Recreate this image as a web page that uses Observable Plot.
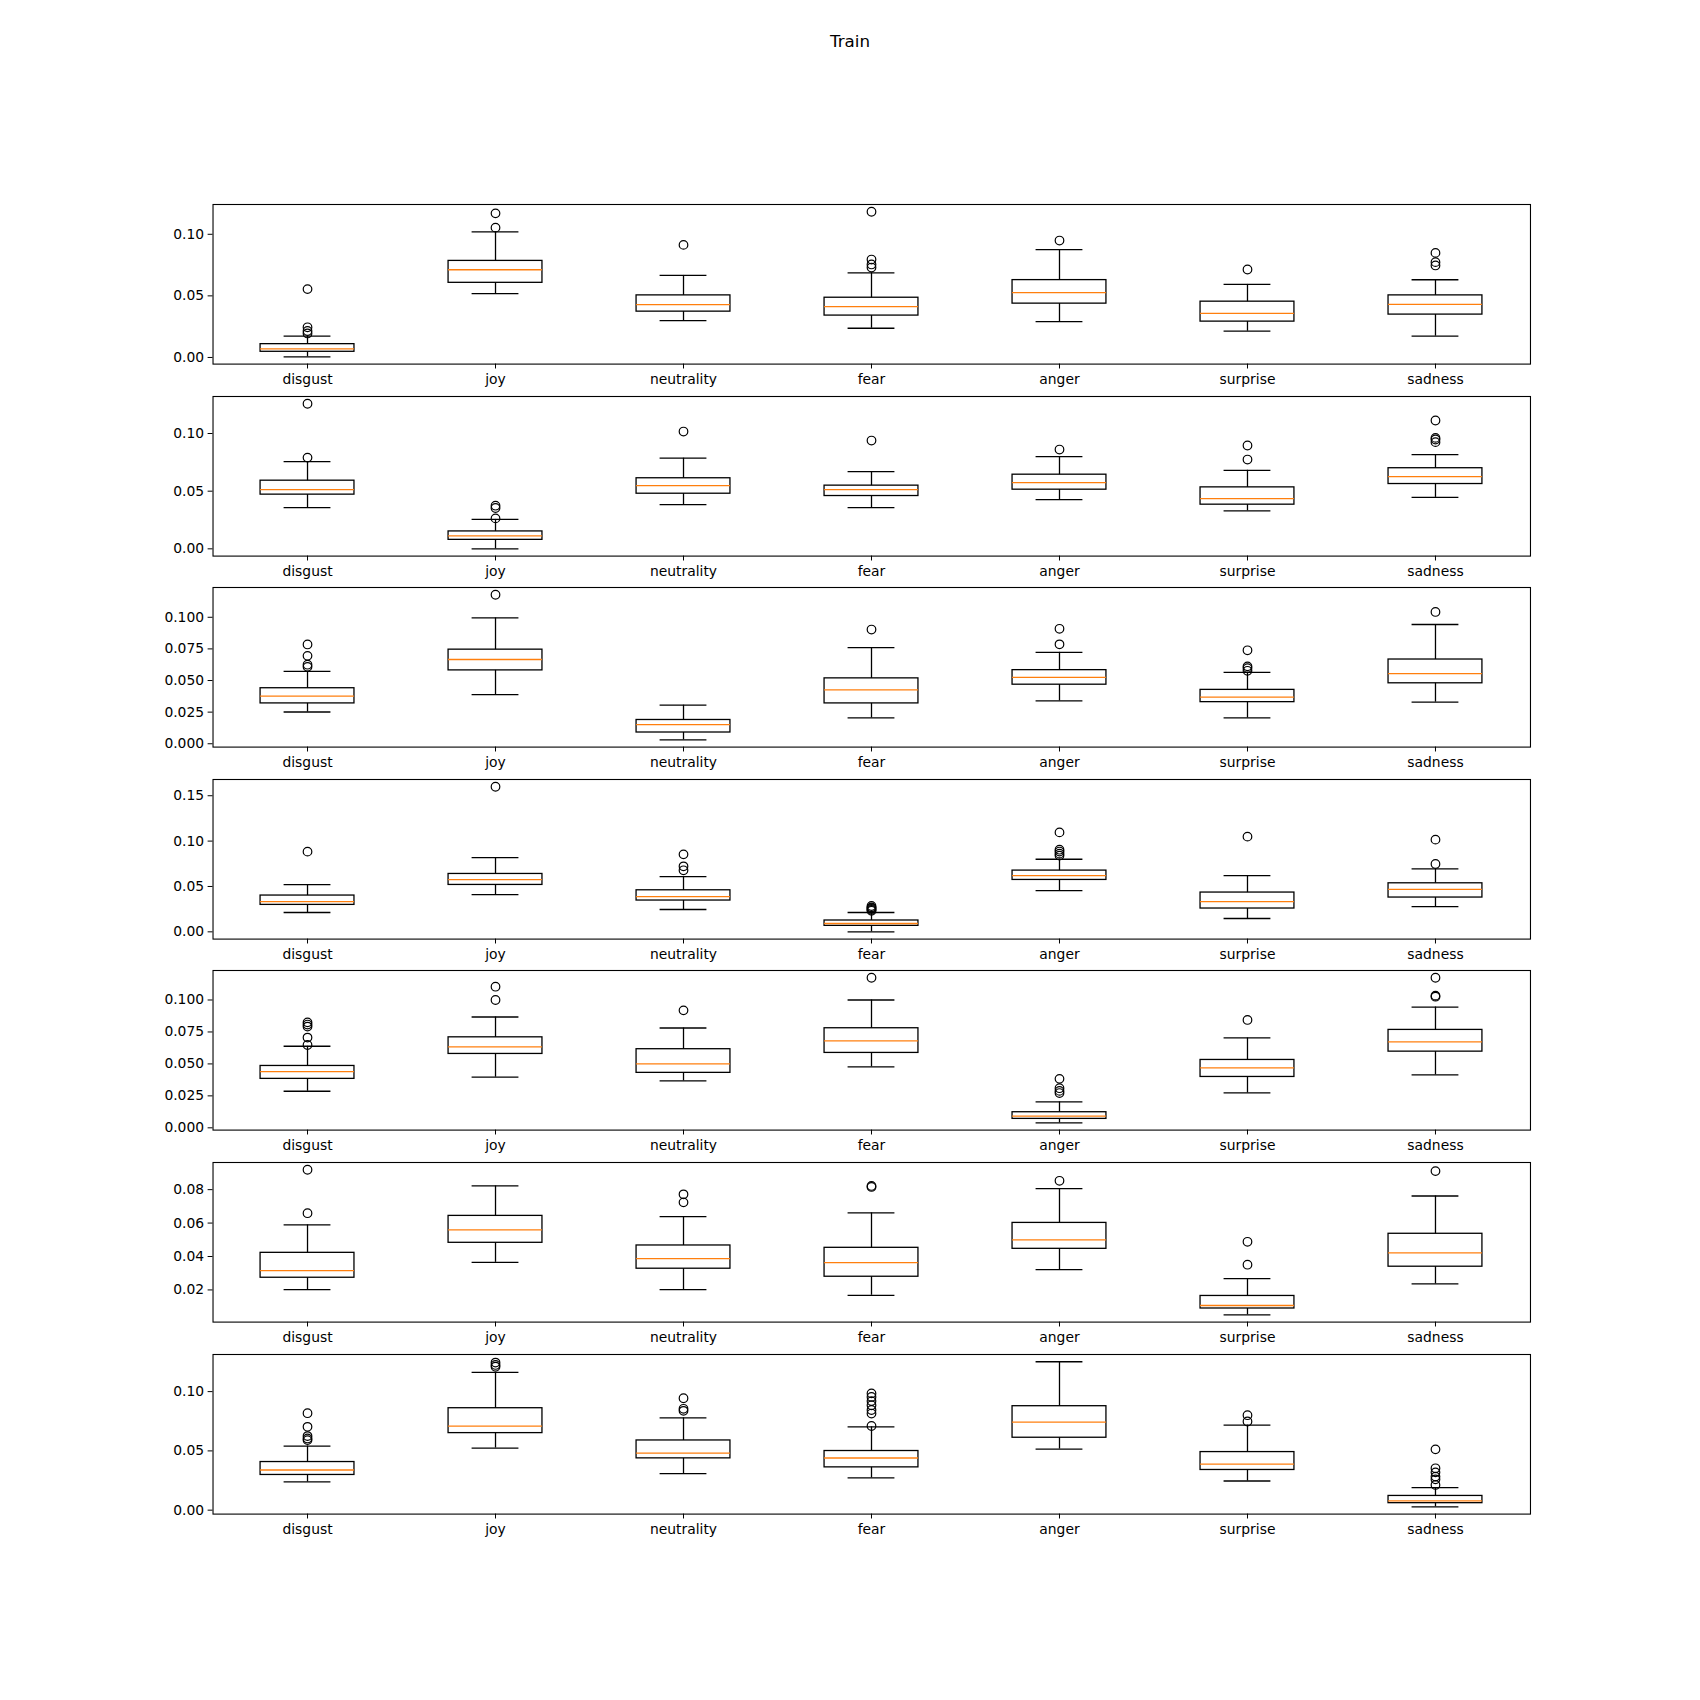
<!DOCTYPE html>
<html>
<head>
<meta charset="utf-8">
<script src="https://cdn.jsdelivr.net/npm/d3@7"></script>
<script src="https://cdn.jsdelivr.net/npm/@observablehq/plot@0.6"></script>
<style>
  html, body { margin: 0; padding: 0; background: white; }
  #fig { position: relative; width: 1700px; height: 1700px; background: white; font-family: "DejaVu Sans", sans-serif; }
  #title { position: absolute; left: 0; width: 1700px; top: 31px; text-align: center; font-size: 16.7px; line-height: 20px; color: black; }
  .panel { position: absolute; left: 0; }
</style>
</head>
<body>
<div id="fig"><div id="title">Train</div></div>
<script>
const categories = ["disgust", "joy", "neutrality", "fear", "anger", "surprise", "sadness"];

// one row per panel, one value per category
const whiskerLow = [
  [0.0005, 0.0518, 0.0299, 0.0237, 0.0291, 0.0213, 0.0173],
  [0.0357, 0.0000, 0.0383, 0.0357, 0.0426, 0.0330, 0.0446],
  [0.0251, 0.0389, 0.0031, 0.0204, 0.0339, 0.0204, 0.0329],
  [0.0213, 0.0411, 0.0246, 0.0000, 0.0455, 0.0147, 0.0279],
  [0.0286, 0.0396, 0.0367, 0.0477, 0.0039, 0.0273, 0.0414],
  [0.0202, 0.0365, 0.0202, 0.0168, 0.0321, 0.0051, 0.0236],
  [0.0238, 0.0524, 0.0308, 0.0272, 0.0515, 0.0246, 0.0028]
];
const quartile1 = [
  [0.0046, 0.0606, 0.0372, 0.0340, 0.0437, 0.0291, 0.0348],
  [0.0470, 0.0078, 0.0478, 0.0458, 0.0513, 0.0383, 0.0562],
  [0.0319, 0.0580, 0.0089, 0.0319, 0.0467, 0.0329, 0.0478],
  [0.0297, 0.0517, 0.0345, 0.0066, 0.0572, 0.0257, 0.0378],
  [0.0383, 0.0578, 0.0430, 0.0586, 0.0070, 0.0398, 0.0596],
  [0.0273, 0.0482, 0.0327, 0.0279, 0.0446, 0.0089, 0.0339],
  [0.0297, 0.0650, 0.0437, 0.0361, 0.0611, 0.0339, 0.0059]
];
const medians = [
  [0.0070, 0.0712, 0.0429, 0.0412, 0.0526, 0.0358, 0.0431],
  [0.0513, 0.0113, 0.0548, 0.0513, 0.0574, 0.0435, 0.0626],
  [0.0376, 0.0666, 0.0151, 0.0426, 0.0525, 0.0368, 0.0554],
  [0.0334, 0.0576, 0.0389, 0.0092, 0.0620, 0.0334, 0.0469],
  [0.0440, 0.0633, 0.0500, 0.0680, 0.0091, 0.0469, 0.0672],
  [0.0315, 0.0559, 0.0387, 0.0363, 0.0500, 0.0107, 0.0422],
  [0.0339, 0.0709, 0.0482, 0.0440, 0.0742, 0.0389, 0.0078]
];
const quartile3 = [
  [0.0108, 0.0784, 0.0504, 0.0485, 0.0628, 0.0453, 0.0504],
  [0.0591, 0.0151, 0.0612, 0.0548, 0.0643, 0.0533, 0.0699],
  [0.0439, 0.0744, 0.0188, 0.0517, 0.0582, 0.0426, 0.0666],
  [0.0400, 0.0638, 0.0458, 0.0125, 0.0675, 0.0433, 0.0535],
  [0.0484, 0.0708, 0.0615, 0.0779, 0.0122, 0.0531, 0.0766],
  [0.0422, 0.0643, 0.0466, 0.0452, 0.0601, 0.0164, 0.0536],
  [0.0406, 0.0860, 0.0588, 0.0499, 0.0877, 0.0490, 0.0120]
];
const whiskerHigh = [
  [0.0173, 0.1019, 0.0666, 0.0687, 0.0876, 0.0593, 0.0631],
  [0.0757, 0.0255, 0.0786, 0.0670, 0.0800, 0.0681, 0.0817],
  [0.0572, 0.0995, 0.0305, 0.0760, 0.0723, 0.0564, 0.0943],
  [0.0521, 0.0818, 0.0609, 0.0213, 0.0800, 0.0620, 0.0693],
  [0.0638, 0.0867, 0.0781, 0.1000, 0.0203, 0.0703, 0.0945],
  [0.0589, 0.0822, 0.0639, 0.0661, 0.0806, 0.0268, 0.0762],
  [0.0541, 0.1162, 0.0779, 0.0703, 0.1252, 0.0717, 0.0190]
];
const outliers = [
  [[0.0555, 0.0245, 0.0215, 0.0195], [0.1170, 0.1054], [0.0914], [0.1183, 0.0795, 0.0755, 0.0730], [0.0949], [0.0714], [0.0849, 0.0774, 0.0747]],
  [[0.1258, 0.0791], [0.0374, 0.0354, 0.0264], [0.1017], [0.0939], [0.0861], [0.0896, 0.0774], [0.1113, 0.0962, 0.0948, 0.0925]],
  [[0.0785, 0.0695, 0.0625, 0.0608], [0.1178], [], [0.0903], [0.0909, 0.0786], [0.0739, 0.0612, 0.0598, 0.0577], [0.1042]],
  [[0.0884], [0.1599], [0.0854, 0.0722, 0.0678], [0.0285, 0.0270, 0.0262, 0.0252, 0.0242, 0.0232], [0.1096, 0.0905, 0.0885, 0.0862, 0.0840], [0.1049], [0.1016, 0.0748]],
  [[0.0825, 0.0808, 0.0792, 0.0706, 0.0648], [0.1104, 0.1000], [0.0919], [0.1174], [0.0383, 0.0310, 0.0289, 0.0272], [0.0844], [0.1174, 0.1034, 0.1026]],
  [[0.0919, 0.0659], [], [0.0772, 0.0724], [0.0822, 0.0816], [0.0853], [0.0488, 0.0351], [0.0911]],
  [[0.0818, 0.0703, 0.0625, 0.0605, 0.0591], [0.1245, 0.1225, 0.1210], [0.0944, 0.0855, 0.0838], [0.0985, 0.0955, 0.0920, 0.0885, 0.0845, 0.0815, 0.0710], [], [0.0801, 0.0748], [0.0513, 0.0353, 0.0319, 0.0283, 0.0260, 0.0213]]
];
const yTicks = [
  [0.00, 0.05, 0.10],
  [0.00, 0.05, 0.10],
  [0.000, 0.025, 0.050, 0.075, 0.100],
  [0.00, 0.05, 0.10, 0.15],
  [0.000, 0.025, 0.050, 0.075, 0.100],
  [0.02, 0.04, 0.06, 0.08],
  [0.00, 0.05, 0.10]
];
const yTickFormats = [".2f", ".2f", ".3f", ".2f", ".3f", ".2f", ".2f"];

// layout (matplotlib default subplot geometry on a 1700x1700 figure)
const W = 1700, ML = 212.5, MR = 170;
const PANEL_H = 159.6, TOP0 = 204, STEP = 191.6;
const MT = 2, MB = 29;
const bandW = (W - ML - MR) / categories.length;
const boxInset = bandW * 0.25;      // box width = 0.5 units
const capInset = bandW * 0.375;     // cap width = 0.25 units
const LW = 1.3;

const fig = document.getElementById("fig");

for (let i = 0; i < whiskerLow.length; i++) {
  const rows = categories.map((c, j) => ({
    cat: c,
    wl: whiskerLow[i][j],
    q1: quartile1[i][j],
    med: medians[i][j],
    q3: quartile3[i][j],
    wh: whiskerHigh[i][j]
  }));
  const fliers = categories.flatMap((c, j) => outliers[i][j].map(v => ({cat: c, v})));
  const allVals = [...whiskerLow[i], ...whiskerHigh[i], ...fliers.map(d => d.v)];
  const [lo, hi] = d3.extent(allVals);
  const pad = (hi - lo) * 0.05;

  const chart = Plot.plot({
    width: W,
    height: MT + PANEL_H + MB,
    marginTop: MT,
    marginBottom: MB,
    marginLeft: ML,
    marginRight: MR,
    style: {fontFamily: "DejaVu Sans, sans-serif", fontSize: "13.9px", background: "transparent", color: "black"},
    x: {type: "band", domain: categories, padding: 0, tickSize: 4.9, tickPadding: 5, label: null},
    y: {domain: [lo - pad, hi + pad], ticks: yTicks[i], tickFormat: d3.format(yTickFormats[i]), tickSize: 4.9, tickPadding: 4, label: null},
    marks: [
      Plot.ruleX(rows, {x: "cat", y1: "wl", y2: "q1", stroke: "black", strokeWidth: LW}),
      Plot.ruleX(rows, {x: "cat", y1: "q3", y2: "wh", stroke: "black", strokeWidth: LW}),
      Plot.tickY(rows, {x: "cat", y: "wl", stroke: "black", strokeWidth: LW, insetLeft: capInset, insetRight: capInset}),
      Plot.tickY(rows, {x: "cat", y: "wh", stroke: "black", strokeWidth: LW, insetLeft: capInset, insetRight: capInset}),
      Plot.barY(rows, {x: "cat", y1: "q1", y2: "q3", fill: "none", stroke: "black", strokeWidth: LW, insetLeft: boxInset, insetRight: boxInset}),
      Plot.tickY(rows, {x: "cat", y: "med", stroke: "#ff7f0e", strokeWidth: LW, insetLeft: boxInset, insetRight: boxInset}),
      Plot.dot(fliers, {x: "cat", y: "v", r: 4.3, stroke: "black", fill: "none", strokeWidth: 1.2}),
      Plot.frame({stroke: "black", strokeWidth: 1.1})
    ]
  });
  chart.classList.add("panel");
  chart.style.top = (TOP0 + i * STEP - MT) + "px";
  fig.appendChild(chart);
}
</script>
</body>
</html>
